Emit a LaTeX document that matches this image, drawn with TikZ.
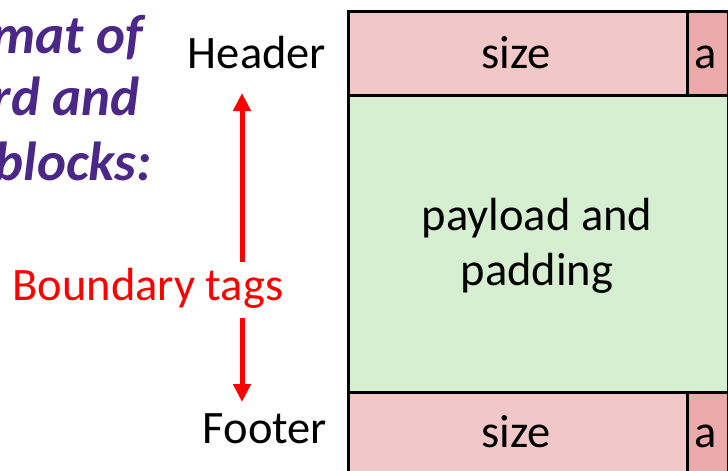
\documentclass[tikz,border=0pt]{standalone}
\usepackage{fontspec}
\setmainfont{Carlito}
\usetikzlibrary{arrows.meta}
\definecolor{titlepurple}{RGB}{75,40,135}
\definecolor{hdrpink}{RGB}{241,199,200}
\definecolor{apink}{RGB}{234,170,170}
\definecolor{paygreen}{RGB}{214,239,208}
\definecolor{tagred}{RGB}{255,0,0}
\tikzset{
  cell/.style={draw=black, line width=3pt, inner sep=0pt, anchor=north west},
  lbl/.style={font=\fontsize{46.5}{56}\selectfont, inner sep=0pt, anchor=base},
  ttl/.style={font=\fontsize{55}{66}\selectfont\bfseries\itshape, text=titlepurple, inner sep=0pt, anchor=base east},
  tagarrow/.style={draw=tagred, line width=5pt, -{Triangle[length=18pt,width=17pt]}}
}
\begin{document}
\begin{tikzpicture}[x=1pt,y=-1pt]
\useasboundingbox (0,0) rectangle (728,471);
\clip (0,0) rectangle (728,471);
% title fragment (cut off at the left edge, as in the reference)
\node[ttl] (t1) at (143,53) {Format of};
\node[ttl] (t2) at (140,115) {rd and};
\node[ttl] (t3) at (152,180) {free blocks:};
% block cells
\node[cell, fill=paygreen, minimum width=380pt, minimum height=297pt] (pay) at (347,94) {};
\node[cell, fill=hdrpink, minimum width=339pt, minimum height=84pt] (hsize) at (347,10) {};
\node[cell, fill=apink, minimum width=41pt, minimum height=84pt] (ha) at (686,10) {};
\node[cell, fill=hdrpink, minimum width=339pt, minimum height=110pt] (fsize) at (347,391) {};
\node[cell, fill=apink, minimum width=41pt, minimum height=110pt] (fa) at (686,391) {};
% texts in cells
\node[lbl] (hs) at (516,68) {size};
\node[lbl] (hat) at (706,68) {a};
\node[lbl] (p1) at (537,230) {payload and};
\node[lbl] (p2) at (537,285) {padding};
\node[lbl] (fs) at (516,447) {size};
\node[lbl] (fat) at (706,447) {a};
% side labels
\node[lbl] (hdr) at (257,68) {Header};
\node[lbl] (ftr) at (265,443) {Footer};
\node[lbl, text=tagred] (tags) at (148,300) {Boundary tags};
\coordinate (up) at (242,93);
\coordinate (dn) at (242,402);
\draw[tagarrow] (242,262) -- (up);
\draw[tagarrow] (242,318) -- (dn);
\end{tikzpicture}
\end{document}
